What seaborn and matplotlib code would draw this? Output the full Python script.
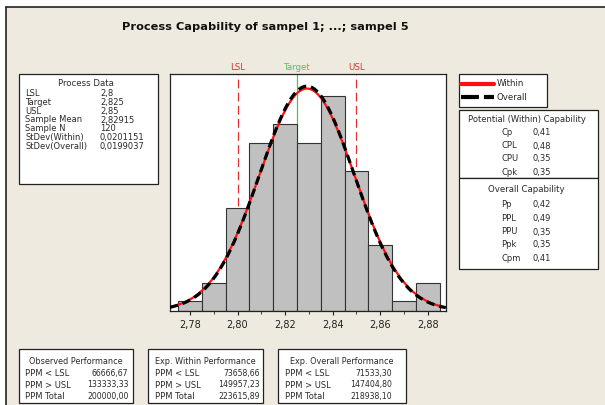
import numpy as np
import matplotlib
matplotlib.use("Agg")
import matplotlib.pyplot as plt
from matplotlib.patches import Rectangle
from matplotlib.lines import Line2D
from matplotlib.ticker import FixedLocator, FixedFormatter, MultipleLocator
import seaborn as sns

# ---------------- data ----------------
title = "Process Capability of sampel 1; ...; sampel 5"
bin_centers = [2.78, 2.79, 2.80, 2.81, 2.82, 2.83, 2.84, 2.85, 2.86, 2.87, 2.88]
counts = [1, 3, 11, 18, 20, 18, 23, 15, 7, 1, 3]
bin_width = 0.01
lsl, target, usl = 2.8, 2.825, 2.85
sample_mean = 2.82915
sample_n = 120
sd_within = 0.0201151
sd_overall = 0.0199037
tick_values = [2.78, 2.80, 2.82, 2.84, 2.86, 2.88]
tick_labels = ["2,78", "2,80", "2,82", "2,84", "2,86", "2,88"]

process_labels = ["LSL", "Target", "USL", "Sample Mean", "Sample N",
                  "StDev(Within)", "StDev(Overall)"]
process_values = ["2,8", "2,825", "2,85", "2,82915", "120",
                  "0,0201151", "0,0199037"]
within_labels = ["Cp", "CPL", "CPU", "Cpk"]
within_values = ["0,41", "0,48", "0,35", "0,35"]
overall_labels = ["Pp", "PPL", "PPU", "Ppk", "Cpm"]
overall_values = ["0,42", "0,49", "0,35", "0,35", "0,41"]
perf_labels = ["PPM < LSL", "PPM > USL", "PPM Total"]
observed_values = ["66666,67", "133333,33", "200000,00"]
exp_within_values = ["73658,66", "149957,23", "223615,89"]
exp_overall_values = ["71533,30", "147404,80", "218938,10"]

# ---------------- figure ----------------
sns.set_style("white")
plt.rcParams["font.family"] = ["DejaVu Sans"]

W, H = 605, 405
fig = plt.figure(figsize=(W / 100, H / 100), dpi=100)
fig.patch.set_facecolor("white")

TXT = "#2a2a2a"

def fx(x):
    return x / W

def fy(y):
    return 1 - y / H

# beige panel
fig.add_artist(Rectangle((fx(6), 0), 1 - fx(6), fy(7), transform=fig.transFigure,
                         facecolor="#EEEAE0", edgecolor="none", zorder=0))
fig.add_artist(Line2D([fx(6), fx(6)], [0, fy(7)], transform=fig.transFigure,
                      color="#222222", lw=1.2))
fig.add_artist(Line2D([fx(6), 1], [fy(7), fy(7)], transform=fig.transFigure,
                      color="#222222", lw=1.2))

def box(x0, y0, x1, y1):
    fig.add_artist(Rectangle((fx(x0), fy(y1)), fx(x1) - fx(x0), fy(y0) - fy(y1),
                             transform=fig.transFigure, facecolor="white",
                             edgecolor="#222222", lw=0.9, zorder=1))

def txt(x, y, s, ha="left", size=6, color=TXT, **kw):
    fig.text(fx(x), fy(y), s, ha=ha, va="center", fontsize=size, zorder=3,
             color=color, **kw)

# title
txt(265, 27, title, ha="center", size=8.2, fontweight="bold", color="#111111")

# ---------------- histogram axes ----------------
ax_l, ax_r, ax_t, ax_b = 170, 445.7, 74, 310.7
ax = fig.add_axes([fx(ax_l), fy(ax_b), fx(ax_r) - fx(ax_l), fy(ax_t) - fy(ax_b)])
ax.set_facecolor("white")

edges = [c - bin_width / 2 for c in bin_centers] + [bin_centers[-1] + bin_width / 2]
sns.histplot(x=bin_centers, weights=counts, bins=edges, ax=ax,
             color="#C0C0C0", edgecolor="#333333", linewidth=0.8, alpha=1, zorder=2)

xmin, xmax = 2.7716, 2.8875
xs = np.linspace(xmin, xmax, 400)
scale = sample_n * bin_width

def npdf(x, m, s):
    return np.exp(-0.5 * ((x - m) / s) ** 2) / (s * np.sqrt(2 * np.pi))

sns.lineplot(x=xs, y=scale * npdf(xs, sample_mean, sd_within), ax=ax,
             color="#FF1010", lw=1.6, zorder=4)
sns.lineplot(x=xs, y=scale * npdf(xs, sample_mean, sd_overall), ax=ax,
             color="black", lw=2.3, linestyle=(0, (2.6, 1.5)), zorder=5)

ax.axvline(lsl, color="#E03030", lw=0.9, linestyle=(0, (7, 3.5)), zorder=1)
ax.axvline(usl, color="#E03030", lw=0.9, linestyle=(0, (7, 3.5)), zorder=1)
ax.axvline(target, color="#55C055", lw=0.9, zorder=1)

ax.set_xlim(xmin, xmax)
ax.set_ylim(0, 25.36)
ax.set_yticks([])
ax.set_ylabel("")
ax.set_xlabel("")
ax.xaxis.set_major_locator(FixedLocator(tick_values))
ax.xaxis.set_major_formatter(FixedFormatter(tick_labels))
ax.xaxis.set_minor_locator(MultipleLocator(0.01))
ax.tick_params(axis="x", which="major", direction="out", length=3, width=0.8,
               labelsize=7, pad=4, bottom=True, colors="#222222")
ax.tick_params(axis="x", which="minor", direction="out", length=2, width=0.6,
               bottom=True, colors="#222222")
for sp in ax.spines.values():
    sp.set_color("#222222")
    sp.set_linewidth(0.9)

# spec labels
for val, lab, col in [(lsl, "LSL", "#E03030"), (target, "Target", "#55C055"),
                      (usl, "USL", "#E03030")]:
    px = ax_l + (val - xmin) / (xmax - xmin) * (ax_r - ax_l)
    txt(px, 67.5, lab, ha="center", size=6.2, color=col)

# ---------------- Process Data box ----------------
box(19, 74, 157.7, 184)
txt(86, 84, "Process Data", ha="center", size=6.2)
for i, (lab, val) in enumerate(zip(process_labels, process_values)):
    y = 93.3 + i * 8.9
    txt(25, y, lab, size=6)
    txt(100, y, val, size=6)

# ---------------- legend ----------------
box(459, 74.3, 546.7, 106.7)
fig.add_artist(Line2D([fx(461.5), fx(493.5)], [fy(84), fy(84)], transform=fig.transFigure,
                      color="#FF1010", lw=3, zorder=3))
fig.add_artist(Line2D([fx(461.5), fx(493.5)], [fy(97.3), fy(97.3)], transform=fig.transFigure,
                      color="black", lw=3, linestyle=(0, (4.3, 1.2)), zorder=3))
txt(497, 84, "Within", size=6.2)
txt(497, 97.3, "Overall", size=6.2)

# ---------------- capability boxes ----------------
box(459, 110, 597.7, 178.3)
txt(527, 119, "Potential (Within) Capability", ha="center", size=6)
for lab, val, y in zip(within_labels, within_values, [132.3, 146, 158.3, 172.3]):
    txt(501.5, y, lab)
    txt(532.5, y, val)

box(459, 178.3, 597.7, 269)
txt(526, 189.3, "Overall Capability", ha="center", size=6.2)
for lab, val, y in zip(overall_labels, overall_values, [204.3, 218.3, 232, 244, 258.3]):
    txt(501.5, y, lab)
    txt(532.5, y, val)

# ---------------- performance boxes ----------------
perf_boxes = [
    (19, 133.3, "Observed Performance", observed_values, 25, 128.3),
    (147.7, 263.3, "Exp. Within Performance", exp_within_values, 155, 260),
    (278.3, 406, "Exp. Overall Performance", exp_overall_values, 285, 391.7),
]
for x0, x1, head, vals, lx, rx in perf_boxes:
    box(x0, 349, x1, 403)
    txt((x0 + x1) / 2, 361, head, ha="center", size=5.9)
    for lab, val, y in zip(perf_labels, vals, [373.3, 385, 396.7]):
        txt(lx, y, lab, size=6)
        txt(rx, y, val, ha="right", size=5.6)

fig.savefig("out.png", dpi=100)
